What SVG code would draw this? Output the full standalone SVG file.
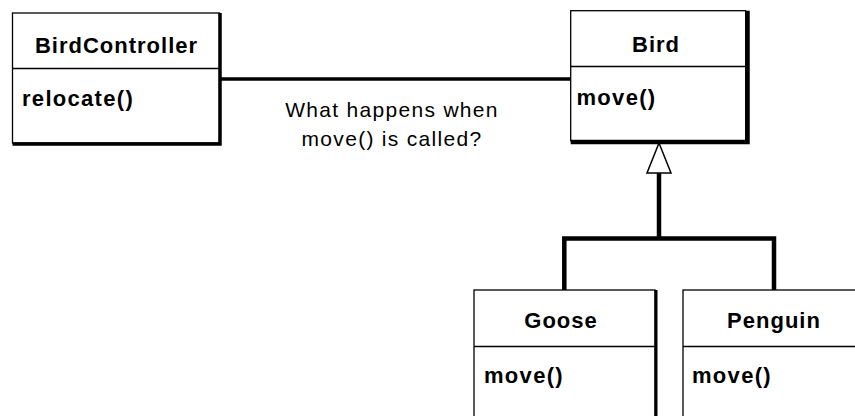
<svg xmlns="http://www.w3.org/2000/svg" width="855" height="416" viewBox="0 0 855 416">
<style>
.box{fill:#fff;stroke:#000;stroke-width:1.3}
.shadow{fill:none;stroke:#000}
.div{stroke:#000;stroke-width:1.3}
.title{font-family:"Liberation Sans",Arial,sans-serif;font-weight:bold;font-size:22px;text-anchor:middle;letter-spacing:1px;fill:#000}
.op{font-family:"Liberation Sans",Arial,sans-serif;font-weight:bold;font-size:22px;letter-spacing:1.3px;fill:#000}
.note{font-family:"Liberation Sans",Arial,sans-serif;font-size:21px;text-anchor:middle;letter-spacing:1.3px;fill:#000}
.conn{stroke:#000;fill:none}
</style>
<rect width="855" height="416" fill="#fff"/>
<g id="connectors">
  <path class="conn" d="M221,79 H570.7" stroke-width="3.5"/>
  <path class="conn" d="M659,173 V238.5" stroke-width="4.5"/>
  <path class="conn" d="M564.3,290 V238.5 H774 V290" stroke-width="4.5"/>
  <polygon points="659,143 647,173 671,173" fill="#fff" stroke="#000" stroke-width="1.5"/>
</g>
<g id="BirdController">
  <rect class="box" x="12.5" y="13" width="207" height="130"/>
  <path class="shadow" d="M220,13 V144 H12.5" stroke-width="3.5"/>
  <line class="div" x1="12.5" y1="68.5" x2="219" y2="68.5"/>
  <text class="title" x="116.5" y="53">BirdController</text>
  <text class="op" x="22" y="106">relocate()</text>
</g>
<g id="Bird">
  <rect class="box" x="570.7" y="10.7" width="175" height="130"/>
  <path class="shadow" d="M747.5,10.7 V142 H570.7" stroke-width="4.5"/>
  <line class="div" x1="570.7" y1="66.5" x2="746" y2="66.5"/>
  <text class="title" x="656" y="52">Bird</text>
  <text class="op" x="576.5" y="105">move()</text>
</g>
<g id="Goose">
  <rect class="box" x="474" y="290" width="181" height="200"/>
  <path class="shadow" d="M656,290 V420" stroke-width="3"/>
  <line class="div" x1="474" y1="346.5" x2="655" y2="346.5"/>
  <text class="title" x="561" y="328">Goose</text>
  <text class="op" x="484" y="383">move()</text>
</g>
<g id="Penguin">
  <rect class="box" x="683" y="290" width="200" height="200"/>
  <line class="div" x1="683" y1="346.5" x2="883" y2="346.5"/>
  <text class="title" x="774" y="328">Penguin</text>
  <text class="op" x="692" y="383">move()</text>
</g>
<g id="note">
  <text class="note" x="392" y="116.5">What happens when</text>
  <text class="note" x="392" y="145.5">move() is called?</text>
</g>
</svg>
